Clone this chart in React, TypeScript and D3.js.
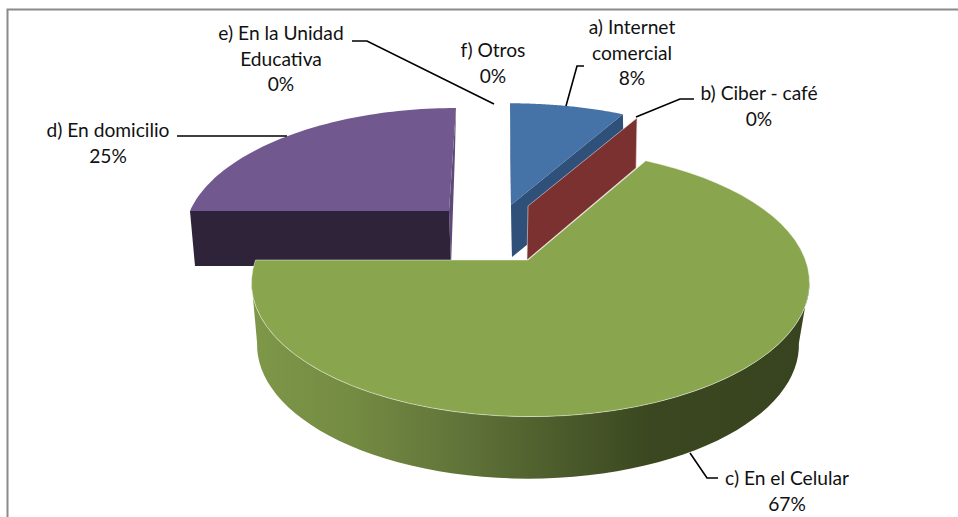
import React from "react";
import * as d3 from "d3";

const categories = ["a) Internet comercial", "b) Ciber - café", "c) En el Celular", "d) En domicilio", "e) En la Unidad Educativa", "f) Otros"];
const values = [8, 0, 67, 25, 0, 0];
const labelLines = [
  ["a) Internet", "comercial", "8%"],
  ["b) Ciber - café", "0%"],
  ["c) En el Celular", "67%"],
  ["d) En domicilio", "25%"],
  ["e) En la Unidad", "Educativa", "0%"],
  ["f) Otros", "0%"],
];
const labelAnchors: [number, number][] = [
  [632, 34], [759, 100], [787, 485], [108, 137], [281, 40], [493, 57],
];
const leaders: [number, number][][] = [
  [[566, 106], [577, 66], [584, 66]],
  [[636, 117], [680, 99], [694, 99]],
  [[690, 453], [707, 478], [718, 478]],
  [[287, 136], [177, 136]],
  [[352, 41], [367, 41], [494, 104]],
  [],
];

const W = 958, H = 517;
const K = 0.17;
const LINE = 25.7;
const FONT = 19.2;

type Disc = { cx: number; cy: number; R: number; S: number; shear: number };
const pt = (d: Disc, theta: number, r = 1): [number, number] => {
  const u = r * Math.sin(theta), v = -r * Math.cos(theta), w = 1 - K * v;
  const dy = (d.S * v) / w;
  return [d.cx + (d.R * u) / w - d.shear * dy, d.cy + dy];
};
const rim = (d: Disc, a0: number, a1: number) =>
  d3.range(0, 61).map((i) => pt(d, a0 + ((a1 - a0) * i) / 60));
const line = d3.line();
const pathOf = (p: [number, number][]) => line(p)! + "Z";

const sectorPath = (d: Disc, a0: number, a1: number, tipX = d.cx) =>
  pathOf([[tipX, d.cy], ...rim(d, a0, a1)]);
const wallPath = (t: Disc, b: Disc, a0: number, a1: number) =>
  pathOf([...rim(t, a0, a1), ...rim(b, a0, a1).reverse()]);
const radialWall = (t: Disc, b: Disc, a: number) =>
  pathOf([[t.cx, t.cy], pt(t, a), pt(b, a), [b.cx, b.cy]]);

const arcs = d3.pie<number>().sort(null).startAngle(0).endAngle(2 * Math.PI)(values);

const blueT: Disc = { cx: 511, cy: 205, R: 269, S: 119, shear: -0.01 };
const blueB: Disc = { cx: 512, cy: 257, R: 269, S: 119, shear: -0.01 };
const redT: Disc = { cx: 528, cy: 206, R: 260, S: 115.5, shear: 0 };
const redB: Disc = { cx: 527, cy: 260, R: 260, S: 120.7, shear: 0 };
const greenT: Disc = { cx: 530.5, cy: 260, R: 275, S: 130, shear: 0 };
const greenB: Disc = { cx: 528, cy: 322, R: 267, S: 130, shear: 0 };
const purpleT: Disc = { cx: 449, cy: 211, R: 259, S: 120.5, shear: 0.068 };
const purpleB: Disc = { cx: 451, cy: 266, R: 256, S: 132, shear: 0.035 };

export default function App() {
  const a = arcs[0], b = arcs[1], c = arcs[2], d = arcs[3];
  const wallStart = Math.PI * 0.55;
  const wallEnd = Math.PI * 1.45;
  return (
    <svg
      width={W}
      height={H}
      viewBox={`0 0 ${W} ${H}`}
      style={{ position: "absolute", left: 0, top: 0, background: "#fff" }}
      fontFamily="Lato, Carlito, sans-serif"
      fontSize={FONT}
      fill="#111"
    >
      <defs>
        <linearGradient id="greenWall" gradientUnits="userSpaceOnUse" x1={252} x2={806} y1={0} y2={0}>
          <stop offset="0" stopColor="#7e9748" />
          <stop offset="0.18" stopColor="#748b42" />
          <stop offset="0.36" stopColor="#62763a" />
          <stop offset="0.56" stopColor="#4c5b2b" />
          <stop offset="0.72" stopColor="#3a4720" />
          <stop offset="1" stopColor="#38441f" />
        </linearGradient>
      </defs>

      <path d={`M${W},9.5H7.5V${H}`} fill="none" stroke="#8a8a8a" strokeWidth={2} />

      <path d={radialWall(blueT, blueB, a.endAngle)} fill="#2f5078" />
      <path d={radialWall(blueT, blueB, a.startAngle)} fill="#2f5078" />
      <path d={sectorPath(blueT, a.startAngle, a.endAngle)} fill="#4572a7" />

      <path d={radialWall(redT, redB, b.startAngle)} fill="#7a3130" stroke="#e8d8d8" strokeWidth={0.6} />

      <path d={radialWall(purpleT, purpleB, d.endAngle)} fill="#5e4a78" />
      <path d={radialWall(purpleT, purpleB, d.startAngle)} fill="#2e2339" />
      <path d={sectorPath(purpleT, d.startAngle, d.endAngle)} fill="#71588f" />

      <path d={wallPath(greenT, greenB, wallStart, wallEnd)} fill="url(#greenWall)" />
      <path d={sectorPath(greenT, c.startAngle, c.endAngle, 528)} fill="#89a54e" stroke="#f2f5ea" strokeWidth={0.7} strokeOpacity={0.7} />

      {leaders.map((l, i) =>
        l.length ? <path key={i} d={line(l)!} fill="none" stroke="#000" strokeWidth={1.6} /> : null
      )}

      {labelLines.map((ls, i) => (
        <text key={categories[i]} textAnchor="middle" x={labelAnchors[i][0]} y={labelAnchors[i][1]}>
          {ls.map((t, j) => (
            <tspan key={j} x={labelAnchors[i][0]} y={labelAnchors[i][1] + j * LINE}>{t}</tspan>
          ))}
        </text>
      ))}
    </svg>
  );
}
